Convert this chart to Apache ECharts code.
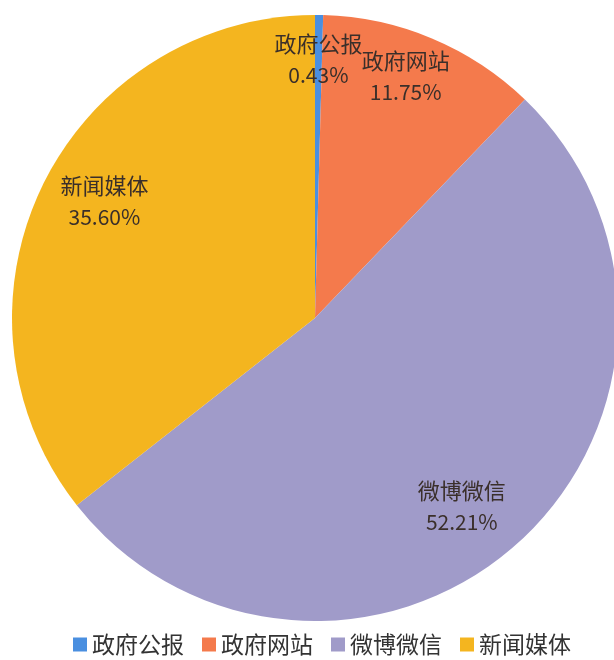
<!DOCTYPE html>
<html>
<head>
<meta charset="utf-8">
<script src="https://cdn.jsdelivr.net/npm/echarts@6/dist/echarts.min.js"></script>
<style>html,body{margin:0;padding:0;background:#fff}#c{width:614px;height:660px}</style>
</head>
<body>
<div id="c"></div>
<script>
const categories = ['政府公报', '政府网站', '微博微信', '新闻媒体'];
const shares = [0.43, 11.75, 52.21, 35.60];
const colors = ['#4a8fe0', '#f47a4c', '#a09bc9', '#f4b51f'];
// small nudges of the label text (not of the marks)
const labelNudge = [[0, -6], [-7, -8], [-23, 1], [17, -6]];

const chart = echarts.init(document.getElementById('c'));
const font = '"Noto Sans CJK SC", "Open Sans", sans-serif';
const baseData = categories.map((n, i) => ({ name: n, value: shares[i] }));
const labelData = categories.map((n, i) => ({
  name: n, value: shares[i], label: { offset: labelNudge[i] }
}));

chart.setOption({
  animation: false,
  color: colors,
  legend: {
    data: categories,
    top: 628,
    left: 68,
    itemWidth: 14,
    itemHeight: 14,
    itemGap: 18,
    icon: 'rect',
    textStyle: { fontFamily: font, fontSize: 23, color: '#333' }
  },
  series: [
    {
      type: 'pie',
      center: [315, 318],
      radius: [0, 303],
      startAngle: 90,
      clockwise: true,
      silent: true,
      label: { show: false },
      labelLine: { show: false },
      itemStyle: { borderWidth: 0 },
      data: baseData
    },
    {
      type: 'pie',
      center: [315, 318],
      radius: [0, 500],
      startAngle: 90,
      clockwise: true,
      silent: true,
      z: 5,
      avoidLabelOverlap: false,
      minShowLabelAngle: 0,
      labelLayout: { hideOverlap: false, moveOverlap: null },
      legendHoverLink: false,
      itemStyle: { color: 'rgba(0,0,0,0)', borderWidth: 0 },
      labelLine: { show: false },
      label: {
        show: true,
        position: 'inside',
        fontFamily: font,
        color: '#3a2f2a',
        formatter: p => '{n|' + p.name + '}\n{v|' + p.value.toFixed(2) + '%}',
        rich: {
          n: { fontFamily: font, fontSize: 22, lineHeight: 31, color: '#3a2f2a' },
          v: { fontFamily: font, fontSize: 21, lineHeight: 31, color: '#3a2f2a' }
        }
      },
      data: labelData
    }
  ]
});
</script>
</body>
</html>
